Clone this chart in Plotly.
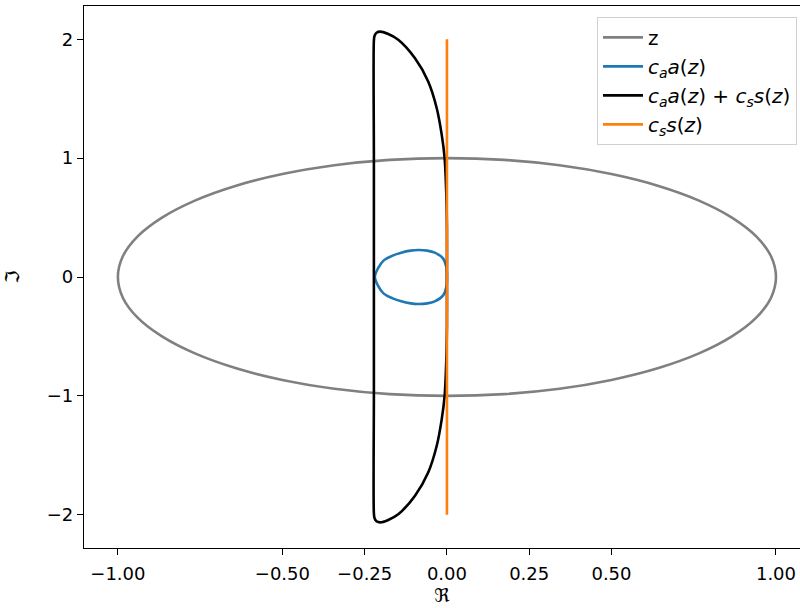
import plotly.graph_objects as go

# Unit circle z on the complex plane (real, imaginary parts)
z_re = [1.0, 0.985, 0.940, 0.866, 0.766, 0.643, 0.500, 0.342, 0.174, 0.0,
        -0.174, -0.342, -0.500, -0.643, -0.766, -0.866, -0.940, -0.985, -1.0,
        -0.985, -0.940, -0.866, -0.766, -0.643, -0.500, -0.342, -0.174, 0.0,
        0.174, 0.342, 0.500, 0.643, 0.766, 0.866, 0.940, 0.985, 1.0]
z_im = [0.0, 0.174, 0.342, 0.500, 0.643, 0.766, 0.866, 0.940, 0.985, 1.0,
        0.985, 0.940, 0.866, 0.766, 0.643, 0.500, 0.342, 0.174, 0.0,
        -0.174, -0.342, -0.500, -0.643, -0.766, -0.866, -0.940, -0.985, -1.0,
        -0.985, -0.940, -0.866, -0.766, -0.643, -0.500, -0.342, -0.174, 0.0]

# c_a a(z): small closed loop in the left half plane
ca_re = [0.0, -0.002, -0.012, -0.037, -0.060, -0.088, -0.110, -0.139, -0.165,
         -0.192, -0.210, -0.219, -0.210, -0.192, -0.165, -0.139, -0.110,
         -0.088, -0.060, -0.037, -0.012, -0.002, 0.0]
ca_im = [0.0, 0.087, 0.157, 0.205, 0.222, 0.227, 0.222, 0.205, 0.180,
         0.140, 0.070, 0.0, -0.070, -0.140, -0.180, -0.205, -0.222,
         -0.227, -0.222, -0.205, -0.157, -0.087, 0.0]

# c_a a(z) + c_s s(z)
sum_re = [-0.222, -0.222, -0.222, -0.222, -0.222, -0.220, -0.214, -0.203,
          -0.180, -0.148, -0.097, -0.057, -0.031, -0.016, -0.007, -0.002,
          0.0, 0.0, 0.0, -0.002, -0.007, -0.016, -0.031, -0.057, -0.097,
          -0.148, -0.180, -0.203, -0.214, -0.220, -0.222]
sum_im = [-1.99, -1.0, 0.0, 1.0, 1.99, 2.03, 2.055, 2.064,
          2.046, 1.996, 1.84, 1.645, 1.42, 1.20, 1.0, 0.70,
          0.40, 0.0, -0.40, -0.70, -1.0, -1.20, -1.42, -1.645, -1.84,
          -1.996, -2.046, -2.064, -2.055, -2.03, -1.99]

# c_s s(z): segment on the imaginary axis
cs_re = [0.0, 0.0, 0.0]
cs_im = [-2.0, 0.0, 2.0]

x_ticks = [-1.0, -0.5, -0.25, 0.0, 0.25, 0.5, 1.0]
x_ticktext = ["\u22121.00", "\u22120.50", "\u22120.25", "0.00", "0.25", "0.50", "1.00"]
y_ticks = [-2, -1, 0, 1, 2]
y_ticktext = ["\u22122", "\u22121", "0", "1", "2"]

LW = 2.6
FS = 18
fig = go.Figure()
fig.add_trace(go.Scatter(x=z_re, y=z_im, mode="lines", name="z",
                         line=dict(color="#808080", width=LW, shape="spline")))
fig.add_trace(go.Scatter(x=ca_re, y=ca_im, mode="lines",
                         name="<i>c<sub>a</sub>a</i>(<i>z</i>)",
                         line=dict(color="#1f77b4", width=LW, shape="spline")))
fig.add_trace(go.Scatter(x=sum_re, y=sum_im, mode="lines",
                         name="<i>c<sub>a</sub>a</i>(<i>z</i>) + <i>c<sub>s</sub>s</i>(<i>z</i>)",
                         line=dict(color="black", width=LW, shape="spline", smoothing=0.8)))
fig.add_trace(go.Scatter(x=cs_re, y=cs_im, mode="lines",
                         name="<i>c<sub>s</sub>s</i>(<i>z</i>)",
                         line=dict(color="#ff7f0e", width=LW)))

axis_common = dict(showgrid=False, zeroline=False, showline=True, linecolor="black",
                   linewidth=1.4, ticks="outside", ticklen=6, tickwidth=1.4,
                   tickcolor="black", tickfont=dict(family="DejaVu Sans", size=FS, color="black"))

fig.update_layout(
    width=800, height=608,
    margin=dict(l=84, r=0, t=6, b=60),
    paper_bgcolor="white", plot_bgcolor="white",
    font=dict(family="DejaVu Sans", size=FS, color="black"),
    xaxis=dict(range=[-1.103, 1.073], tickvals=x_ticks, ticktext=x_ticktext,
               mirror=True, ticklabelstandoff=3,
               title=dict(text="\u211c", font=dict(size=19), standoff=0),
               **axis_common),
    yaxis=dict(range=[-2.28, 2.28], tickvals=y_ticks, ticktext=y_ticktext,
               title=dict(text="\u2111", font=dict(size=19), standoff=22),
               **axis_common),
    legend=dict(x=0.9958, y=0.98, xanchor="right", yanchor="top",
                bgcolor="white", bordercolor="#d0d0d0", borderwidth=1,
                font=dict(family="DejaVu Sans", size=20), itemwidth=40),
    showlegend=True,
)

fig.write_html("out.html")
